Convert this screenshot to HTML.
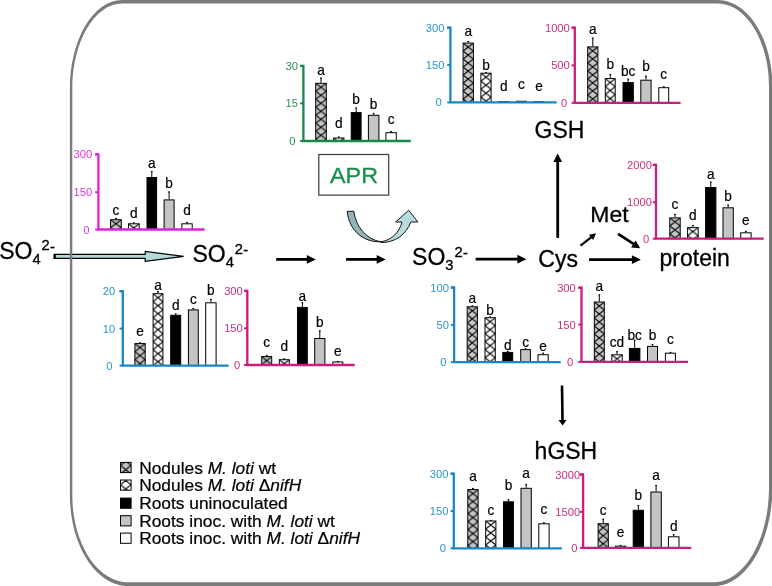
<!DOCTYPE html>
<html><head><meta charset="utf-8"><title>Sulfur metabolism figure</title>
<style>
html,body{margin:0;padding:0;background:#fff;width:772px;height:586px;overflow:hidden}
svg{display:block;will-change:transform}
text{font-family:"Liberation Sans", sans-serif}
</style></head>
<body>
<svg width="772" height="586" viewBox="0 0 772 586" font-family='"Liberation Sans", sans-serif'><defs><pattern id="aprp0" patternUnits="userSpaceOnUse" x="315.7" y="83.3" width="10.6" height="8"><rect width="10.6" height="8" fill="#c4c4c4"/><path d="M0 0L10.6 8M10.6 0L0 8M-5.3 4L5.3 -4M5.3 12L15.9 4M5.3 -4L15.9 4M-5.3 4L5.3 12" stroke="#000" stroke-width="1.1" fill="none"/></pattern><pattern id="aprp1" patternUnits="userSpaceOnUse" x="333.6" y="138" width="10.3" height="8"><rect width="10.3" height="8" fill="#fff"/><path d="M0 0L10.3 8M10.3 0L0 8M-5.15 4L5.15 -4M5.15 12L15.45 4M5.15 -4L15.45 4M-5.15 4L5.15 12" stroke="#000" stroke-width="1.1" fill="none"/></pattern><pattern id="gshbp0" patternUnits="userSpaceOnUse" x="463.1" y="43.1" width="10.3" height="8"><rect width="10.3" height="8" fill="#c4c4c4"/><path d="M0 0L10.3 8M10.3 0L0 8M-5.15 4L5.15 -4M5.15 12L15.45 4M5.15 -4L15.45 4M-5.15 4L5.15 12" stroke="#000" stroke-width="1.1" fill="none"/></pattern><pattern id="gshbp1" patternUnits="userSpaceOnUse" x="480.9" y="73.2" width="10.2" height="8"><rect width="10.2" height="8" fill="#fff"/><path d="M0 0L10.2 8M10.2 0L0 8M-5.1 4L5.1 -4M5.1 12L15.3 4M5.1 -4L15.3 4M-5.1 4L5.1 12" stroke="#000" stroke-width="1.1" fill="none"/></pattern><pattern id="gshpp0" patternUnits="userSpaceOnUse" x="587.7" y="46.9" width="10.2" height="8"><rect width="10.2" height="8" fill="#c4c4c4"/><path d="M0 0L10.2 8M10.2 0L0 8M-5.1 4L5.1 -4M5.1 12L15.3 4M5.1 -4L15.3 4M-5.1 4L5.1 12" stroke="#000" stroke-width="1.1" fill="none"/></pattern><pattern id="gshpp1" patternUnits="userSpaceOnUse" x="605.3" y="78.6" width="9.9" height="8"><rect width="9.9" height="8" fill="#fff"/><path d="M0 0L9.9 8M9.9 0L0 8M-4.95 4L4.95 -4M4.95 12L14.85 4M4.95 -4L14.85 4M-4.95 4L4.95 12" stroke="#000" stroke-width="1.1" fill="none"/></pattern><pattern id="so4mp0" patternUnits="userSpaceOnUse" x="110.6" y="219.7" width="10.7" height="8"><rect width="10.7" height="8" fill="#c4c4c4"/><path d="M0 0L10.7 8M10.7 0L0 8M-5.35 4L5.35 -4M5.35 12L16.05 4M5.35 -4L16.05 4M-5.35 4L5.35 12" stroke="#000" stroke-width="1.1" fill="none"/></pattern><pattern id="so4mp1" patternUnits="userSpaceOnUse" x="128.5" y="223.8" width="10.7" height="8"><rect width="10.7" height="8" fill="#fff"/><path d="M0 0L10.7 8M10.7 0L0 8M-5.35 4L5.35 -4M5.35 12L16.05 4M5.35 -4L16.05 4M-5.35 4L5.35 12" stroke="#000" stroke-width="1.1" fill="none"/></pattern><pattern id="protp0" patternUnits="userSpaceOnUse" x="669.8" y="217.9" width="10.4" height="8"><rect width="10.4" height="8" fill="#c4c4c4"/><path d="M0 0L10.4 8M10.4 0L0 8M-5.2 4L5.2 -4M5.2 12L15.6 4M5.2 -4L15.6 4M-5.2 4L5.2 12" stroke="#000" stroke-width="1.1" fill="none"/></pattern><pattern id="protp1" patternUnits="userSpaceOnUse" x="687.6" y="227.6" width="10.6" height="8"><rect width="10.6" height="8" fill="#fff"/><path d="M0 0L10.6 8M10.6 0L0 8M-5.3 4L5.3 -4M5.3 12L15.9 4M5.3 -4L15.9 4M-5.3 4L5.3 12" stroke="#000" stroke-width="1.1" fill="none"/></pattern><pattern id="so4bp0" patternUnits="userSpaceOnUse" x="134.9" y="343.6" width="10.3" height="8"><rect width="10.3" height="8" fill="#c4c4c4"/><path d="M0 0L10.3 8M10.3 0L0 8M-5.15 4L5.15 -4M5.15 12L15.45 4M5.15 -4L15.45 4M-5.15 4L5.15 12" stroke="#000" stroke-width="1.1" fill="none"/></pattern><pattern id="so4bp1" patternUnits="userSpaceOnUse" x="153.1" y="293.7" width="9.8" height="8"><rect width="9.8" height="8" fill="#fff"/><path d="M0 0L9.8 8M9.8 0L0 8M-4.9 4L4.9 -4M4.9 12L14.7 4M4.9 -4L14.7 4M-4.9 4L4.9 12" stroke="#000" stroke-width="1.1" fill="none"/></pattern><pattern id="so4pp0" patternUnits="userSpaceOnUse" x="261.7" y="356.6" width="10" height="8"><rect width="10" height="8" fill="#c4c4c4"/><path d="M0 0L10 8M10 0L0 8M-5 4L5 -4M5 12L15 4M5 -4L15 4M-5 4L5 12" stroke="#000" stroke-width="1.1" fill="none"/></pattern><pattern id="so4pp1" patternUnits="userSpaceOnUse" x="279.3" y="359.7" width="10" height="8"><rect width="10" height="8" fill="#fff"/><path d="M0 0L10 8M10 0L0 8M-5 4L5 -4M5 12L15 4M5 -4L15 4M-5 4L5 12" stroke="#000" stroke-width="1.1" fill="none"/></pattern><pattern id="so3bp0" patternUnits="userSpaceOnUse" x="467.2" y="306.8" width="10.2" height="8"><rect width="10.2" height="8" fill="#c4c4c4"/><path d="M0 0L10.2 8M10.2 0L0 8M-5.1 4L5.1 -4M5.1 12L15.3 4M5.1 -4L15.3 4M-5.1 4L5.1 12" stroke="#000" stroke-width="1.1" fill="none"/></pattern><pattern id="so3bp1" patternUnits="userSpaceOnUse" x="485" y="317.7" width="10.3" height="8"><rect width="10.3" height="8" fill="#fff"/><path d="M0 0L10.3 8M10.3 0L0 8M-5.15 4L5.15 -4M5.15 12L15.45 4M5.15 -4L15.45 4M-5.15 4L5.15 12" stroke="#000" stroke-width="1.1" fill="none"/></pattern><pattern id="so3pp0" patternUnits="userSpaceOnUse" x="594.3" y="302" width="10" height="8"><rect width="10" height="8" fill="#c4c4c4"/><path d="M0 0L10 8M10 0L0 8M-5 4L5 -4M5 12L15 4M5 -4L15 4M-5 4L5 12" stroke="#000" stroke-width="1.1" fill="none"/></pattern><pattern id="so3pp1" patternUnits="userSpaceOnUse" x="611.8" y="354.8" width="10.4" height="8"><rect width="10.4" height="8" fill="#fff"/><path d="M0 0L10.4 8M10.4 0L0 8M-5.2 4L5.2 -4M5.2 12L15.6 4M5.2 -4L15.6 4M-5.2 4L5.2 12" stroke="#000" stroke-width="1.1" fill="none"/></pattern><pattern id="hgbp0" patternUnits="userSpaceOnUse" x="467.8" y="489.6" width="10.3" height="8"><rect width="10.3" height="8" fill="#c4c4c4"/><path d="M0 0L10.3 8M10.3 0L0 8M-5.15 4L5.15 -4M5.15 12L15.45 4M5.15 -4L15.45 4M-5.15 4L5.15 12" stroke="#000" stroke-width="1.1" fill="none"/></pattern><pattern id="hgbp1" patternUnits="userSpaceOnUse" x="485.7" y="521" width="10.2" height="8"><rect width="10.2" height="8" fill="#fff"/><path d="M0 0L10.2 8M10.2 0L0 8M-5.1 4L5.1 -4M5.1 12L15.3 4M5.1 -4L15.3 4M-5.1 4L5.1 12" stroke="#000" stroke-width="1.1" fill="none"/></pattern><pattern id="hgpp0" patternUnits="userSpaceOnUse" x="598.1" y="523.7" width="10.2" height="8"><rect width="10.2" height="8" fill="#c4c4c4"/><path d="M0 0L10.2 8M10.2 0L0 8M-5.1 4L5.1 -4M5.1 12L15.3 4M5.1 -4L15.3 4M-5.1 4L5.1 12" stroke="#000" stroke-width="1.1" fill="none"/></pattern><pattern id="hgpp1" patternUnits="userSpaceOnUse" x="615.4" y="546.2" width="10.4" height="8"><rect width="10.4" height="8" fill="#fff"/><path d="M0 0L10.4 8M10.4 0L0 8M-5.2 4L5.2 -4M5.2 12L15.6 4M5.2 -4L15.6 4M-5.2 4L5.2 12" stroke="#000" stroke-width="1.1" fill="none"/></pattern><pattern id="lgp0" patternUnits="userSpaceOnUse" x="120.5" y="465.45" width="10.6" height="8.5"><rect width="10.6" height="8.5" fill="#c4c4c4"/><path d="M0 0L10.6 8.5M10.6 0L0 8.5M-5.3 4.25L5.3 -4.25M5.3 12.75L15.9 4.25M5.3 -4.25L15.9 4.25M-5.3 4.25L5.3 12.75" stroke="#000" stroke-width="1.1" fill="none"/></pattern><pattern id="lgp1" patternUnits="userSpaceOnUse" x="120.5" y="476.25" width="10.6" height="8.5"><rect width="10.6" height="8.5" fill="#fff"/><path d="M0 0L10.6 8.5M10.6 0L0 8.5M-5.3 4.25L5.3 -4.25M5.3 12.75L15.9 4.25M5.3 -4.25L15.9 4.25M-5.3 4.25L5.3 12.75" stroke="#000" stroke-width="1.1" fill="none"/></pattern></defs><rect width="772" height="586" fill="#fff"/><g id="apr"><line x1="321" y1="77.7" x2="321" y2="82.8" stroke="#000" stroke-width="1"/><line x1="320.1" y1="78.1" x2="321.9" y2="78.1" stroke="#000" stroke-width="1"/><rect x="315.7" y="83.3" width="10.6" height="57.7" fill="url(#aprp0)" stroke="#000" stroke-width="1"/><text transform="translate(321 75.2) scale(0.9 1)" text-anchor="middle" font-size="15.2" stroke="#000" stroke-width="0.2">a</text><line x1="338.75" y1="136.6" x2="338.75" y2="137.5" stroke="#000" stroke-width="1"/><line x1="337.85" y1="137" x2="339.65" y2="137" stroke="#000" stroke-width="1"/><rect x="333.6" y="138" width="10.3" height="3" fill="url(#aprp1)" stroke="#000" stroke-width="1"/><text transform="translate(338.75 128.4) scale(0.9 1)" text-anchor="middle" font-size="15.2" stroke="#000" stroke-width="0.2">d</text><line x1="356.15" y1="107.6" x2="356.15" y2="112.1" stroke="#000" stroke-width="1"/><line x1="355.25" y1="108" x2="357.05" y2="108" stroke="#000" stroke-width="1"/><rect x="351.2" y="112.6" width="9.9" height="28.4" fill="#000" stroke="#000" stroke-width="1"/><text transform="translate(356.15 104) scale(0.9 1)" text-anchor="middle" font-size="15.2" stroke="#000" stroke-width="0.2">b</text><line x1="373.65" y1="113" x2="373.65" y2="114.8" stroke="#000" stroke-width="1"/><line x1="372.75" y1="113.4" x2="374.55" y2="113.4" stroke="#000" stroke-width="1"/><rect x="368.4" y="115.3" width="10.5" height="25.7" fill="#c4c4c4" stroke="#000" stroke-width="1"/><text transform="translate(373.65 109) scale(0.9 1)" text-anchor="middle" font-size="15.2" stroke="#000" stroke-width="0.2">b</text><line x1="391.1" y1="131.2" x2="391.1" y2="132.2" stroke="#000" stroke-width="1"/><line x1="390.2" y1="131.6" x2="392" y2="131.6" stroke="#000" stroke-width="1"/><rect x="385.9" y="132.7" width="10.4" height="8.3" fill="#fff" stroke="#000" stroke-width="1"/><text transform="translate(391.1 124) scale(0.9 1)" text-anchor="middle" font-size="15.2" stroke="#000" stroke-width="0.2">c</text><path d="M300.2 65.9H303.4V141H410.8" fill="none" stroke="#17894a" stroke-width="2.3" stroke-linejoin="miter"/><line x1="300.2" y1="65.9" x2="303.4" y2="65.9" stroke="#17894a" stroke-width="2"/><text x="298" y="69.9" text-anchor="end" font-size="11.2" fill="#2a9058">30</text><line x1="300.2" y1="103.4" x2="303.4" y2="103.4" stroke="#17894a" stroke-width="2"/><text x="298" y="107.4" text-anchor="end" font-size="11.2" fill="#2a9058">15</text><line x1="300.2" y1="141" x2="303.4" y2="141" stroke="#17894a" stroke-width="2"/><text x="295.4" y="145" text-anchor="end" font-size="11.2" fill="#2a9058">0</text></g>
<g id="gshb"><line x1="468.25" y1="41.2" x2="468.25" y2="42.6" stroke="#000" stroke-width="1"/><line x1="467.35" y1="41.6" x2="469.15" y2="41.6" stroke="#000" stroke-width="1"/><rect x="463.1" y="43.1" width="10.3" height="59.3" fill="url(#gshbp0)" stroke="#000" stroke-width="1"/><text transform="translate(468.25 35.9) scale(0.9 1)" text-anchor="middle" font-size="15.2" stroke="#000" stroke-width="0.2">a</text><line x1="486" y1="72" x2="486" y2="72.7" stroke="#000" stroke-width="1"/><line x1="485.1" y1="72.4" x2="486.9" y2="72.4" stroke="#000" stroke-width="1"/><rect x="480.9" y="73.2" width="10.2" height="29.2" fill="url(#gshbp1)" stroke="#000" stroke-width="1"/><text transform="translate(486 70.3) scale(0.9 1)" text-anchor="middle" font-size="15.2" stroke="#000" stroke-width="0.2">b</text><rect x="498.8" y="101.7" width="9.9" height="0.7" fill="#000" stroke="#000" stroke-width="1"/><text transform="translate(503.75 91) scale(0.9 1)" text-anchor="middle" font-size="15.2" stroke="#000" stroke-width="0.2">d</text><rect x="516.3" y="101.3" width="10.2" height="1.1" fill="#c4c4c4" stroke="#000" stroke-width="1"/><text transform="translate(521.4 89.4) scale(0.9 1)" text-anchor="middle" font-size="15.2" stroke="#000" stroke-width="0.2">c</text><rect x="534" y="101.7" width="10.1" height="0.7" fill="#fff" stroke="#000" stroke-width="1"/><text transform="translate(539.05 91) scale(0.9 1)" text-anchor="middle" font-size="15.2" stroke="#000" stroke-width="0.2">e</text><path d="M447.2 27.7H450.4V102.4H556.7" fill="none" stroke="#1a86c2" stroke-width="2.3" stroke-linejoin="miter"/><line x1="447.2" y1="27.7" x2="450.4" y2="27.7" stroke="#1a86c2" stroke-width="2"/><text x="444.4" y="31.7" text-anchor="end" font-size="11.2" fill="#2a96cc">300</text><line x1="447.2" y1="64.9" x2="450.4" y2="64.9" stroke="#1a86c2" stroke-width="2"/><text x="444.4" y="68.9" text-anchor="end" font-size="11.2" fill="#2a96cc">150</text><line x1="447.2" y1="102.4" x2="450.4" y2="102.4" stroke="#1a86c2" stroke-width="2"/><text x="441.8" y="106.4" text-anchor="end" font-size="11.2" fill="#2a96cc">0</text></g>
<g id="gshp"><line x1="592.8" y1="37.7" x2="592.8" y2="46.4" stroke="#000" stroke-width="1"/><line x1="591.9" y1="38.1" x2="593.7" y2="38.1" stroke="#000" stroke-width="1"/><rect x="587.7" y="46.9" width="10.2" height="55.9" fill="url(#gshpp0)" stroke="#000" stroke-width="1"/><text transform="translate(592.8 33.5) scale(0.9 1)" text-anchor="middle" font-size="15.2" stroke="#000" stroke-width="0.2">a</text><line x1="610.25" y1="74" x2="610.25" y2="78.1" stroke="#000" stroke-width="1"/><line x1="609.35" y1="74.4" x2="611.15" y2="74.4" stroke="#000" stroke-width="1"/><rect x="605.3" y="78.6" width="9.9" height="24.2" fill="url(#gshpp1)" stroke="#000" stroke-width="1"/><text transform="translate(610.25 68.9) scale(0.9 1)" text-anchor="middle" font-size="15.2" stroke="#000" stroke-width="0.2">b</text><line x1="628.15" y1="78.8" x2="628.15" y2="82.1" stroke="#000" stroke-width="1"/><line x1="627.25" y1="79.2" x2="629.05" y2="79.2" stroke="#000" stroke-width="1"/><rect x="623" y="82.6" width="10.3" height="20.2" fill="#000" stroke="#000" stroke-width="1"/><text transform="translate(628.15 75.8) scale(0.9 1)" text-anchor="middle" font-size="15.2" stroke="#000" stroke-width="0.2">bc</text><line x1="645.95" y1="75.8" x2="645.95" y2="79.7" stroke="#000" stroke-width="1"/><line x1="645.05" y1="76.2" x2="646.85" y2="76.2" stroke="#000" stroke-width="1"/><rect x="640.8" y="80.2" width="10.3" height="22.6" fill="#c4c4c4" stroke="#000" stroke-width="1"/><text transform="translate(645.95 71.2) scale(0.9 1)" text-anchor="middle" font-size="15.2" stroke="#000" stroke-width="0.2">b</text><line x1="663.75" y1="86.3" x2="663.75" y2="87.2" stroke="#000" stroke-width="1"/><line x1="662.85" y1="86.7" x2="664.65" y2="86.7" stroke="#000" stroke-width="1"/><rect x="658.8" y="87.7" width="9.9" height="15.1" fill="#fff" stroke="#000" stroke-width="1"/><text transform="translate(663.75 78.5) scale(0.9 1)" text-anchor="middle" font-size="15.2" stroke="#000" stroke-width="0.2">c</text><path d="M571.6 27.7H574.8V102.8H680.6" fill="none" stroke="#cc1c7e" stroke-width="2.3" stroke-linejoin="miter"/><line x1="571.6" y1="27.7" x2="574.8" y2="27.7" stroke="#cc1c7e" stroke-width="2"/><text x="569.8" y="31.7" text-anchor="end" font-size="11.2" fill="#c8307f">1000</text><line x1="571.6" y1="65.4" x2="574.8" y2="65.4" stroke="#cc1c7e" stroke-width="2"/><text x="569.8" y="69.4" text-anchor="end" font-size="11.2" fill="#c8307f">500</text><line x1="571.6" y1="102.8" x2="574.8" y2="102.8" stroke="#cc1c7e" stroke-width="2"/><text x="567.2" y="106.8" text-anchor="end" font-size="11.2" fill="#c8307f">0</text></g>
<g id="so4m"><line x1="115.95" y1="218" x2="115.95" y2="219.2" stroke="#000" stroke-width="1"/><line x1="115.05" y1="218.4" x2="116.85" y2="218.4" stroke="#000" stroke-width="1"/><rect x="110.6" y="219.7" width="10.7" height="9.8" fill="url(#so4mp0)" stroke="#000" stroke-width="1"/><text transform="translate(115.95 215) scale(0.9 1)" text-anchor="middle" font-size="15.2" stroke="#000" stroke-width="0.2">c</text><line x1="133.85" y1="222.5" x2="133.85" y2="223.3" stroke="#000" stroke-width="1"/><line x1="132.95" y1="222.9" x2="134.75" y2="222.9" stroke="#000" stroke-width="1"/><rect x="128.5" y="223.8" width="10.7" height="5.7" fill="url(#so4mp1)" stroke="#000" stroke-width="1"/><text transform="translate(133.85 217.9) scale(0.9 1)" text-anchor="middle" font-size="15.2" stroke="#000" stroke-width="0.2">d</text><line x1="151.8" y1="171.2" x2="151.8" y2="177" stroke="#000" stroke-width="1"/><line x1="150.9" y1="171.6" x2="152.7" y2="171.6" stroke="#000" stroke-width="1"/><rect x="147" y="177.5" width="9.6" height="52" fill="#000" stroke="#000" stroke-width="1"/><text transform="translate(151.8 168.3) scale(0.9 1)" text-anchor="middle" font-size="15.2" stroke="#000" stroke-width="0.2">a</text><line x1="169.1" y1="191.6" x2="169.1" y2="199.4" stroke="#000" stroke-width="1"/><line x1="168.2" y1="192" x2="170" y2="192" stroke="#000" stroke-width="1"/><rect x="164.1" y="199.9" width="10" height="29.6" fill="#c4c4c4" stroke="#000" stroke-width="1"/><text transform="translate(169.1 187.7) scale(0.9 1)" text-anchor="middle" font-size="15.2" stroke="#000" stroke-width="0.2">b</text><line x1="187.05" y1="222" x2="187.05" y2="223.3" stroke="#000" stroke-width="1"/><line x1="186.15" y1="222.4" x2="187.95" y2="222.4" stroke="#000" stroke-width="1"/><rect x="181.9" y="223.8" width="10.3" height="5.7" fill="#fff" stroke="#000" stroke-width="1"/><text transform="translate(187.05 215) scale(0.9 1)" text-anchor="middle" font-size="15.2" stroke="#000" stroke-width="0.2">d</text><path d="M95.2 154.3H98.4V229.5H204.7" fill="none" stroke="#dc22dc" stroke-width="2.3" stroke-linejoin="miter"/><line x1="95.2" y1="154.3" x2="98.4" y2="154.3" stroke="#dc22dc" stroke-width="2"/><text x="92.2" y="158.3" text-anchor="end" font-size="11.2" fill="#dd33dd">300</text><line x1="95.2" y1="192.2" x2="98.4" y2="192.2" stroke="#dc22dc" stroke-width="2"/><text x="92.2" y="196.2" text-anchor="end" font-size="11.2" fill="#dd33dd">150</text><line x1="95.2" y1="229.5" x2="98.4" y2="229.5" stroke="#dc22dc" stroke-width="2"/><text x="89.6" y="233.5" text-anchor="end" font-size="11.2" fill="#dd33dd">0</text></g>
<g id="prot"><line x1="675" y1="214" x2="675" y2="217.4" stroke="#000" stroke-width="1"/><line x1="674.1" y1="214.4" x2="675.9" y2="214.4" stroke="#000" stroke-width="1"/><rect x="669.8" y="217.9" width="10.4" height="20.8" fill="url(#protp0)" stroke="#000" stroke-width="1"/><text transform="translate(675 208.9) scale(0.9 1)" text-anchor="middle" font-size="15.2" stroke="#000" stroke-width="0.2">c</text><line x1="692.9" y1="225" x2="692.9" y2="227.1" stroke="#000" stroke-width="1"/><line x1="692" y1="225.4" x2="693.8" y2="225.4" stroke="#000" stroke-width="1"/><rect x="687.6" y="227.6" width="10.6" height="11.1" fill="url(#protp1)" stroke="#000" stroke-width="1"/><text transform="translate(692.9 219.9) scale(0.9 1)" text-anchor="middle" font-size="15.2" stroke="#000" stroke-width="0.2">d</text><line x1="710.75" y1="181.7" x2="710.75" y2="187" stroke="#000" stroke-width="1"/><line x1="709.85" y1="182.1" x2="711.65" y2="182.1" stroke="#000" stroke-width="1"/><rect x="705.6" y="187.5" width="10.3" height="51.2" fill="#000" stroke="#000" stroke-width="1"/><text transform="translate(710.75 178.6) scale(0.9 1)" text-anchor="middle" font-size="15.2" stroke="#000" stroke-width="0.2">a</text><line x1="728.15" y1="204.7" x2="728.15" y2="207.3" stroke="#000" stroke-width="1"/><line x1="727.25" y1="205.1" x2="729.05" y2="205.1" stroke="#000" stroke-width="1"/><rect x="723" y="207.8" width="10.3" height="30.9" fill="#c4c4c4" stroke="#000" stroke-width="1"/><text transform="translate(728.15 200.5) scale(0.9 1)" text-anchor="middle" font-size="15.2" stroke="#000" stroke-width="0.2">b</text><line x1="745.9" y1="231" x2="745.9" y2="232.3" stroke="#000" stroke-width="1"/><line x1="745" y1="231.4" x2="746.8" y2="231.4" stroke="#000" stroke-width="1"/><rect x="740.7" y="232.8" width="10.4" height="5.9" fill="#fff" stroke="#000" stroke-width="1"/><text transform="translate(745.9 225.4) scale(0.9 1)" text-anchor="middle" font-size="15.2" stroke="#000" stroke-width="0.2">e</text><path d="M652.8 164.8H656V238.7H763.7" fill="none" stroke="#cc1c7e" stroke-width="2.3" stroke-linejoin="miter"/><line x1="652.8" y1="164.8" x2="656" y2="164.8" stroke="#cc1c7e" stroke-width="2"/><text x="651.9" y="168.8" text-anchor="end" font-size="11.2" fill="#c8307f">2000</text><line x1="652.8" y1="202.2" x2="656" y2="202.2" stroke="#cc1c7e" stroke-width="2"/><text x="651.9" y="206.2" text-anchor="end" font-size="11.2" fill="#c8307f">1000</text><line x1="652.8" y1="238.7" x2="656" y2="238.7" stroke="#cc1c7e" stroke-width="2"/><text x="649.3" y="242.7" text-anchor="end" font-size="11.2" fill="#c8307f">0</text></g>
<g id="so4b"><line x1="140.05" y1="342.5" x2="140.05" y2="343.1" stroke="#000" stroke-width="1"/><line x1="139.15" y1="342.9" x2="140.95" y2="342.9" stroke="#000" stroke-width="1"/><rect x="134.9" y="343.6" width="10.3" height="22" fill="url(#so4bp0)" stroke="#000" stroke-width="1"/><text transform="translate(140.05 336.2) scale(0.9 1)" text-anchor="middle" font-size="15.2" stroke="#000" stroke-width="0.2">e</text><line x1="158" y1="291.2" x2="158" y2="293.2" stroke="#000" stroke-width="1"/><line x1="157.1" y1="291.6" x2="158.9" y2="291.6" stroke="#000" stroke-width="1"/><rect x="153.1" y="293.7" width="9.8" height="71.9" fill="url(#so4bp1)" stroke="#000" stroke-width="1"/><text transform="translate(158 290) scale(0.9 1)" text-anchor="middle" font-size="15.2" stroke="#000" stroke-width="0.2">a</text><line x1="175.7" y1="313.5" x2="175.7" y2="314.8" stroke="#000" stroke-width="1"/><line x1="174.8" y1="313.9" x2="176.6" y2="313.9" stroke="#000" stroke-width="1"/><rect x="170.7" y="315.3" width="10" height="50.3" fill="#000" stroke="#000" stroke-width="1"/><text transform="translate(175.7 310) scale(0.9 1)" text-anchor="middle" font-size="15.2" stroke="#000" stroke-width="0.2">d</text><line x1="193.35" y1="308.1" x2="193.35" y2="309.4" stroke="#000" stroke-width="1"/><line x1="192.45" y1="308.5" x2="194.25" y2="308.5" stroke="#000" stroke-width="1"/><rect x="188.4" y="309.9" width="9.9" height="55.7" fill="#c4c4c4" stroke="#000" stroke-width="1"/><text transform="translate(193.35 303.6) scale(0.9 1)" text-anchor="middle" font-size="15.2" stroke="#000" stroke-width="0.2">c</text><line x1="210.9" y1="299" x2="210.9" y2="302.3" stroke="#000" stroke-width="1"/><line x1="210" y1="299.4" x2="211.8" y2="299.4" stroke="#000" stroke-width="1"/><rect x="205.7" y="302.8" width="10.4" height="62.8" fill="#fff" stroke="#000" stroke-width="1"/><text transform="translate(210.9 295.4) scale(0.9 1)" text-anchor="middle" font-size="15.2" stroke="#000" stroke-width="0.2">b</text><path d="M119.6 291.2H122.8V365.6H228.7" fill="none" stroke="#1a86c2" stroke-width="2.3" stroke-linejoin="miter"/><line x1="119.6" y1="291.2" x2="122.8" y2="291.2" stroke="#1a86c2" stroke-width="2"/><text x="115.2" y="295.2" text-anchor="end" font-size="11.2" fill="#2a96cc">20</text><line x1="119.6" y1="328.6" x2="122.8" y2="328.6" stroke="#1a86c2" stroke-width="2"/><text x="115.2" y="332.6" text-anchor="end" font-size="11.2" fill="#2a96cc">10</text><line x1="119.6" y1="365.6" x2="122.8" y2="365.6" stroke="#1a86c2" stroke-width="2"/><text x="112.6" y="369.6" text-anchor="end" font-size="11.2" fill="#2a96cc">0</text></g>
<g id="so4p"><line x1="266.7" y1="355" x2="266.7" y2="356.1" stroke="#000" stroke-width="1"/><line x1="265.8" y1="355.4" x2="267.6" y2="355.4" stroke="#000" stroke-width="1"/><rect x="261.7" y="356.6" width="10" height="8.4" fill="url(#so4pp0)" stroke="#000" stroke-width="1"/><text transform="translate(266.7 347.4) scale(0.9 1)" text-anchor="middle" font-size="15.2" stroke="#000" stroke-width="0.2">c</text><line x1="284.3" y1="358.5" x2="284.3" y2="359.2" stroke="#000" stroke-width="1"/><line x1="283.4" y1="358.9" x2="285.2" y2="358.9" stroke="#000" stroke-width="1"/><rect x="279.3" y="359.7" width="10" height="5.3" fill="url(#so4pp1)" stroke="#000" stroke-width="1"/><text transform="translate(284.3 350.5) scale(0.9 1)" text-anchor="middle" font-size="15.2" stroke="#000" stroke-width="0.2">d</text><line x1="302.4" y1="302.4" x2="302.4" y2="306.9" stroke="#000" stroke-width="1"/><line x1="301.5" y1="302.8" x2="303.3" y2="302.8" stroke="#000" stroke-width="1"/><rect x="297.5" y="307.4" width="9.8" height="57.6" fill="#000" stroke="#000" stroke-width="1"/><text transform="translate(302.4 301.1) scale(0.9 1)" text-anchor="middle" font-size="15.2" stroke="#000" stroke-width="0.2">a</text><line x1="319.8" y1="330.4" x2="319.8" y2="338" stroke="#000" stroke-width="1"/><line x1="318.9" y1="330.8" x2="320.7" y2="330.8" stroke="#000" stroke-width="1"/><rect x="314.7" y="338.5" width="10.2" height="26.5" fill="#c4c4c4" stroke="#000" stroke-width="1"/><text transform="translate(319.8 326.6) scale(0.9 1)" text-anchor="middle" font-size="15.2" stroke="#000" stroke-width="0.2">b</text><line x1="337.8" y1="361" x2="337.8" y2="361.5" stroke="#000" stroke-width="1"/><line x1="336.9" y1="361.4" x2="338.7" y2="361.4" stroke="#000" stroke-width="1"/><rect x="332.8" y="362" width="10" height="3" fill="#fff" stroke="#000" stroke-width="1"/><text transform="translate(337.8 355.6) scale(0.9 1)" text-anchor="middle" font-size="15.2" stroke="#000" stroke-width="0.2">e</text><path d="M244.1 290.8H247.3V365H354.7" fill="none" stroke="#cc1c7e" stroke-width="2.3" stroke-linejoin="miter"/><line x1="244.1" y1="290.8" x2="247.3" y2="290.8" stroke="#cc1c7e" stroke-width="2"/><text x="242.8" y="294.8" text-anchor="end" font-size="11.2" fill="#c8307f">300</text><line x1="244.1" y1="328.3" x2="247.3" y2="328.3" stroke="#cc1c7e" stroke-width="2"/><text x="242.8" y="332.3" text-anchor="end" font-size="11.2" fill="#c8307f">150</text><line x1="244.1" y1="365" x2="247.3" y2="365" stroke="#cc1c7e" stroke-width="2"/><text x="240.2" y="369" text-anchor="end" font-size="11.2" fill="#c8307f">0</text></g>
<g id="so3b"><line x1="472.3" y1="305.5" x2="472.3" y2="306.3" stroke="#000" stroke-width="1"/><line x1="471.4" y1="305.9" x2="473.2" y2="305.9" stroke="#000" stroke-width="1"/><rect x="467.2" y="306.8" width="10.2" height="55.3" fill="url(#so3bp0)" stroke="#000" stroke-width="1"/><text transform="translate(472.3 302.5) scale(0.9 1)" text-anchor="middle" font-size="15.2" stroke="#000" stroke-width="0.2">a</text><line x1="490.15" y1="316.5" x2="490.15" y2="317.2" stroke="#000" stroke-width="1"/><line x1="489.25" y1="316.9" x2="491.05" y2="316.9" stroke="#000" stroke-width="1"/><rect x="485" y="317.7" width="10.3" height="44.4" fill="url(#so3bp1)" stroke="#000" stroke-width="1"/><text transform="translate(490.15 314.7) scale(0.9 1)" text-anchor="middle" font-size="15.2" stroke="#000" stroke-width="0.2">b</text><line x1="507.75" y1="351" x2="507.75" y2="351.9" stroke="#000" stroke-width="1"/><line x1="506.85" y1="351.4" x2="508.65" y2="351.4" stroke="#000" stroke-width="1"/><rect x="502.8" y="352.4" width="9.9" height="9.7" fill="#000" stroke="#000" stroke-width="1"/><text transform="translate(507.75 349.9) scale(0.9 1)" text-anchor="middle" font-size="15.2" stroke="#000" stroke-width="0.2">d</text><line x1="525.55" y1="348.5" x2="525.55" y2="349.1" stroke="#000" stroke-width="1"/><line x1="524.65" y1="348.9" x2="526.45" y2="348.9" stroke="#000" stroke-width="1"/><rect x="520.7" y="349.6" width="9.7" height="12.5" fill="#c4c4c4" stroke="#000" stroke-width="1"/><text transform="translate(525.55 346.7) scale(0.9 1)" text-anchor="middle" font-size="15.2" stroke="#000" stroke-width="0.2">c</text><line x1="543.1" y1="352.8" x2="543.1" y2="354.2" stroke="#000" stroke-width="1"/><line x1="542.2" y1="353.2" x2="544" y2="353.2" stroke="#000" stroke-width="1"/><rect x="538" y="354.7" width="10.2" height="7.4" fill="#fff" stroke="#000" stroke-width="1"/><text transform="translate(543.1 351.4) scale(0.9 1)" text-anchor="middle" font-size="15.2" stroke="#000" stroke-width="0.2">e</text><path d="M450.9 287.5H454.1V362.1H560.7" fill="none" stroke="#1a86c2" stroke-width="2.3" stroke-linejoin="miter"/><line x1="450.9" y1="287.5" x2="454.1" y2="287.5" stroke="#1a86c2" stroke-width="2"/><text x="449" y="291.5" text-anchor="end" font-size="11.2" fill="#2a96cc">100</text><line x1="450.9" y1="325.1" x2="454.1" y2="325.1" stroke="#1a86c2" stroke-width="2"/><text x="449" y="329.1" text-anchor="end" font-size="11.2" fill="#2a96cc">50</text><line x1="450.9" y1="362.1" x2="454.1" y2="362.1" stroke="#1a86c2" stroke-width="2"/><text x="446.4" y="366.1" text-anchor="end" font-size="11.2" fill="#2a96cc">0</text></g>
<g id="so3p"><line x1="599.3" y1="294.5" x2="599.3" y2="301.5" stroke="#000" stroke-width="1"/><line x1="598.4" y1="294.9" x2="600.2" y2="294.9" stroke="#000" stroke-width="1"/><rect x="594.3" y="302" width="10" height="59.9" fill="url(#so3pp0)" stroke="#000" stroke-width="1"/><text transform="translate(599.3 291) scale(0.9 1)" text-anchor="middle" font-size="15.2" stroke="#000" stroke-width="0.2">a</text><line x1="617" y1="351.3" x2="617" y2="354.3" stroke="#000" stroke-width="1"/><line x1="616.1" y1="351.7" x2="617.9" y2="351.7" stroke="#000" stroke-width="1"/><rect x="611.8" y="354.8" width="10.4" height="7.1" fill="url(#so3pp1)" stroke="#000" stroke-width="1"/><text transform="translate(617 346.9) scale(0.9 1)" text-anchor="middle" font-size="15.2" stroke="#000" stroke-width="0.2">cd</text><line x1="634.65" y1="339.8" x2="634.65" y2="347.9" stroke="#000" stroke-width="1"/><line x1="633.75" y1="340.2" x2="635.55" y2="340.2" stroke="#000" stroke-width="1"/><rect x="629.4" y="348.4" width="10.5" height="13.5" fill="#000" stroke="#000" stroke-width="1"/><text transform="translate(634.65 340.2) scale(0.9 1)" text-anchor="middle" font-size="15.2" stroke="#000" stroke-width="0.2">bc</text><line x1="652.5" y1="344.2" x2="652.5" y2="345.9" stroke="#000" stroke-width="1"/><line x1="651.6" y1="344.6" x2="653.4" y2="344.6" stroke="#000" stroke-width="1"/><rect x="647.5" y="346.4" width="10" height="15.5" fill="#c4c4c4" stroke="#000" stroke-width="1"/><text transform="translate(652.5 339.8) scale(0.9 1)" text-anchor="middle" font-size="15.2" stroke="#000" stroke-width="0.2">b</text><line x1="670.4" y1="352" x2="670.4" y2="352.7" stroke="#000" stroke-width="1"/><line x1="669.5" y1="352.4" x2="671.3" y2="352.4" stroke="#000" stroke-width="1"/><rect x="665.4" y="353.2" width="10" height="8.7" fill="#fff" stroke="#000" stroke-width="1"/><text transform="translate(670.4 344.2) scale(0.9 1)" text-anchor="middle" font-size="15.2" stroke="#000" stroke-width="0.2">c</text><path d="M578.3 287.6H581.5V361.9H688" fill="none" stroke="#cc1c7e" stroke-width="2.3" stroke-linejoin="miter"/><line x1="578.3" y1="287.6" x2="581.5" y2="287.6" stroke="#cc1c7e" stroke-width="2"/><text x="575.8" y="291.6" text-anchor="end" font-size="11.2" fill="#c8307f">300</text><line x1="578.3" y1="324.6" x2="581.5" y2="324.6" stroke="#cc1c7e" stroke-width="2"/><text x="575.8" y="328.6" text-anchor="end" font-size="11.2" fill="#c8307f">150</text><line x1="578.3" y1="361.9" x2="581.5" y2="361.9" stroke="#cc1c7e" stroke-width="2"/><text x="573.2" y="365.9" text-anchor="end" font-size="11.2" fill="#c8307f">0</text></g>
<g id="hgb"><line x1="472.95" y1="488" x2="472.95" y2="489.1" stroke="#000" stroke-width="1"/><line x1="472.05" y1="488.4" x2="473.85" y2="488.4" stroke="#000" stroke-width="1"/><rect x="467.8" y="489.6" width="10.3" height="58.7" fill="url(#hgbp0)" stroke="#000" stroke-width="1"/><text transform="translate(472.95 480.7) scale(0.9 1)" text-anchor="middle" font-size="15.2" stroke="#000" stroke-width="0.2">a</text><line x1="490.8" y1="520" x2="490.8" y2="520.5" stroke="#000" stroke-width="1"/><line x1="489.9" y1="520.4" x2="491.7" y2="520.4" stroke="#000" stroke-width="1"/><rect x="485.7" y="521" width="10.2" height="27.3" fill="url(#hgbp1)" stroke="#000" stroke-width="1"/><text transform="translate(490.8 515.4) scale(0.9 1)" text-anchor="middle" font-size="15.2" stroke="#000" stroke-width="0.2">c</text><line x1="508.45" y1="499.4" x2="508.45" y2="501.3" stroke="#000" stroke-width="1"/><line x1="507.55" y1="499.8" x2="509.35" y2="499.8" stroke="#000" stroke-width="1"/><rect x="503.5" y="501.8" width="9.9" height="46.5" fill="#000" stroke="#000" stroke-width="1"/><text transform="translate(508.45 490) scale(0.9 1)" text-anchor="middle" font-size="15.2" stroke="#000" stroke-width="0.2">b</text><line x1="526.15" y1="484" x2="526.15" y2="487.8" stroke="#000" stroke-width="1"/><line x1="525.25" y1="484.4" x2="527.05" y2="484.4" stroke="#000" stroke-width="1"/><rect x="521" y="488.3" width="10.3" height="60" fill="#c4c4c4" stroke="#000" stroke-width="1"/><text transform="translate(526.15 477.8) scale(0.9 1)" text-anchor="middle" font-size="15.2" stroke="#000" stroke-width="0.2">a</text><line x1="543.95" y1="522.5" x2="543.95" y2="523.3" stroke="#000" stroke-width="1"/><line x1="543.05" y1="522.9" x2="544.85" y2="522.9" stroke="#000" stroke-width="1"/><rect x="538.8" y="523.8" width="10.3" height="24.5" fill="#fff" stroke="#000" stroke-width="1"/><text transform="translate(543.95 513.5) scale(0.9 1)" text-anchor="middle" font-size="15.2" stroke="#000" stroke-width="0.2">c</text><path d="M450.6 473.7H453.8V548.3H561.8" fill="none" stroke="#1a86c2" stroke-width="2.3" stroke-linejoin="miter"/><line x1="450.6" y1="473.7" x2="453.8" y2="473.7" stroke="#1a86c2" stroke-width="2"/><text x="448.5" y="477.7" text-anchor="end" font-size="11.2" fill="#2a96cc">300</text><line x1="450.6" y1="511.1" x2="453.8" y2="511.1" stroke="#1a86c2" stroke-width="2"/><text x="448.5" y="515.1" text-anchor="end" font-size="11.2" fill="#2a96cc">150</text><line x1="450.6" y1="548.3" x2="453.8" y2="548.3" stroke="#1a86c2" stroke-width="2"/><text x="445.9" y="552.3" text-anchor="end" font-size="11.2" fill="#2a96cc">0</text></g>
<g id="hgp"><line x1="603.2" y1="518.8" x2="603.2" y2="523.2" stroke="#000" stroke-width="1"/><line x1="602.3" y1="519.2" x2="604.1" y2="519.2" stroke="#000" stroke-width="1"/><rect x="598.1" y="523.7" width="10.2" height="24.2" fill="url(#hgpp0)" stroke="#000" stroke-width="1"/><text transform="translate(603.2 515.2) scale(0.9 1)" text-anchor="middle" font-size="15.2" stroke="#000" stroke-width="0.2">c</text><line x1="620.6" y1="545" x2="620.6" y2="545.7" stroke="#000" stroke-width="1"/><line x1="619.7" y1="545.4" x2="621.5" y2="545.4" stroke="#000" stroke-width="1"/><rect x="615.4" y="546.2" width="10.4" height="1.7" fill="url(#hgpp1)" stroke="#000" stroke-width="1"/><text transform="translate(620.6 537.3) scale(0.9 1)" text-anchor="middle" font-size="15.2" stroke="#000" stroke-width="0.2">e</text><line x1="638.35" y1="505.2" x2="638.35" y2="509.8" stroke="#000" stroke-width="1"/><line x1="637.45" y1="505.6" x2="639.25" y2="505.6" stroke="#000" stroke-width="1"/><rect x="633.2" y="510.3" width="10.3" height="37.6" fill="#000" stroke="#000" stroke-width="1"/><text transform="translate(638.35 499.8) scale(0.9 1)" text-anchor="middle" font-size="15.2" stroke="#000" stroke-width="0.2">b</text><line x1="656.1" y1="485.1" x2="656.1" y2="491.5" stroke="#000" stroke-width="1"/><line x1="655.2" y1="485.5" x2="657" y2="485.5" stroke="#000" stroke-width="1"/><rect x="650.9" y="492" width="10.4" height="55.9" fill="#c4c4c4" stroke="#000" stroke-width="1"/><text transform="translate(656.1 480) scale(0.9 1)" text-anchor="middle" font-size="15.2" stroke="#000" stroke-width="0.2">a</text><line x1="673.7" y1="534.3" x2="673.7" y2="536.3" stroke="#000" stroke-width="1"/><line x1="672.8" y1="534.7" x2="674.6" y2="534.7" stroke="#000" stroke-width="1"/><rect x="668.4" y="536.8" width="10.6" height="11.1" fill="#fff" stroke="#000" stroke-width="1"/><text transform="translate(673.7 530.7) scale(0.9 1)" text-anchor="middle" font-size="15.2" stroke="#000" stroke-width="0.2">d</text><path d="M579.9 474.5H583.1V547.9H691.2" fill="none" stroke="#cc1c7e" stroke-width="2.3" stroke-linejoin="miter"/><line x1="579.9" y1="474.5" x2="583.1" y2="474.5" stroke="#cc1c7e" stroke-width="2"/><text x="580.2" y="478.5" text-anchor="end" font-size="11.2" fill="#c8307f">3000</text><line x1="579.9" y1="511.8" x2="583.1" y2="511.8" stroke="#cc1c7e" stroke-width="2"/><text x="580.2" y="515.8" text-anchor="end" font-size="11.2" fill="#c8307f">1500</text><line x1="579.9" y1="547.9" x2="583.1" y2="547.9" stroke="#cc1c7e" stroke-width="2"/><text x="577.6" y="551.9" text-anchor="end" font-size="11.2" fill="#c8307f">0</text></g>
<line x1="276.2" y1="259.4" x2="307.3" y2="259.4" stroke="#000" stroke-width="2.8"/><path d="M315.8 259.4L306.8 263.8L306.8 255Z" fill="#000"/>
<line x1="346.1" y1="259.4" x2="377.2" y2="259.4" stroke="#000" stroke-width="2.8"/><path d="M385.7 259.4L376.7 263.8L376.7 255Z" fill="#000"/>
<line x1="475.6" y1="259.2" x2="517.9" y2="259.2" stroke="#000" stroke-width="2.8"/><path d="M526.4 259.2L517.4 263.6L517.4 254.8Z" fill="#000"/>
<line x1="589.1" y1="259.7" x2="632.4" y2="259.7" stroke="#000" stroke-width="2.8"/><path d="M640.9 259.7L631.9 264.1L631.9 255.3Z" fill="#000"/>
<line x1="557.7" y1="237.9" x2="557.7" y2="161.5" stroke="#000" stroke-width="2.8"/><path d="M557.7 153.5L562.1 162L553.3 162Z" fill="#000"/>
<line x1="580.5" y1="245.7" x2="591.4" y2="237.03" stroke="#000" stroke-width="2.2"/><path d="M596.1 233.3L593.13 240.01L588.9 234.68Z" fill="#000"/>
<line x1="618.1" y1="233.8" x2="633.84" y2="244.17" stroke="#000" stroke-width="2.8"/><path d="M640.1 248.3L631.11 247.4L635.73 240.39Z" fill="#000"/>
<line x1="562" y1="385.4" x2="562.53" y2="420.5" stroke="#000" stroke-width="2.6"/><path d="M562.6 425.5L558.52 420.06L566.52 419.94Z" fill="#000"/>
<path d="M54.3 254.4H145.2V251.4L183.6 256.4L145.2 261.4V258.4H54.3Z" fill="#b4dadb" stroke="#000" stroke-width="1.2" stroke-linejoin="miter"/>
<rect x="53.6" y="254.2" width="2.2" height="4.4" fill="#000"/>
<path d="M347.2 211.3L353.9 211.3C355.5 226 366 239.5 381 241.8C364 242.5 349 231 347.2 211.3Z" fill="#93b3b9" stroke="#000" stroke-width="0.9"/>
<path d="M381 241.8C392 240 399.5 232 402 222L395.6 222L408.7 210.3L418 222L410.8 222C406 235 395 242.5 381 242.6Z" fill="#b7dcdf" stroke="#000" stroke-width="0.9" stroke-linejoin="miter"/>
<rect x="318.8" y="154.5" width="69.9" height="40.6" fill="none" stroke="#3a3a3a" stroke-width="1.2"/>
<text transform="translate(354 182.8) scale(1.08 1)" font-size="21.6" text-anchor="middle" fill="#1b8f4d" stroke="#1b8f4d" stroke-width="0.3">APR</text>
<text transform="translate(-0.8 258.5) scale(1.0 1)" font-size="23.0" stroke="#000" stroke-width="0.3">SO<tspan font-size="14.72" dy="5.06">4</tspan><tspan font-size="14.72" dy="-13.34" dx="0.9">2</tspan><tspan font-size="14.72" dy="1.3" dx="0.3">-</tspan></text>
<text transform="translate(192.4 262.2) scale(1.0 1)" font-size="23.0" stroke="#000" stroke-width="0.3">SO<tspan font-size="14.72" dy="5.06">4</tspan><tspan font-size="14.72" dy="-13.34" dx="0.9">2</tspan><tspan font-size="14.72" dy="1.3" dx="0.3">-</tspan></text>
<text transform="translate(412.1 265.3) scale(1.0 1)" font-size="23.0" stroke="#000" stroke-width="0.3">SO<tspan font-size="14.72" dy="5.06">3</tspan><tspan font-size="14.72" dy="-13.34" dx="0.9">2</tspan><tspan font-size="14.72" dy="1.3" dx="0.3">-</tspan></text>
<text transform="translate(538.3 267) scale(1.0 1)" font-size="23.0" stroke="#000" stroke-width="0.3">Cys</text>
<text transform="translate(590.3 221.8) scale(1.045 1)" font-size="22.0" stroke="#000" stroke-width="0.3">Met</text>
<text transform="translate(659.5 265.6) scale(1.0 1)" font-size="23.0" stroke="#000" stroke-width="0.3">protein</text>
<text transform="translate(534.6 137.6) scale(1.0 1)" font-size="23.0" stroke="#000" stroke-width="0.3">GSH</text>
<text transform="translate(534.6 458.6) scale(1.0 1)" font-size="23.0" stroke="#000" stroke-width="0.3">hGSH</text>
<rect x="120.5" y="462.4" width="10.6" height="10.2" fill="url(#lgp0)" stroke="#000" stroke-width="1"/>
<text transform="translate(139.2 473.5) scale(1.058 1)" font-size="16.4" stroke="#000" stroke-width="0.2">Nodules <tspan font-style="italic">M. loti</tspan> wt</text>
<rect x="120.5" y="480" width="10.6" height="10.2" fill="url(#lgp1)" stroke="#000" stroke-width="1"/>
<text transform="translate(139.2 491.2) scale(1.058 1)" font-size="16.4" stroke="#000" stroke-width="0.2">Nodules <tspan font-style="italic">M. loti</tspan> Δ<tspan font-style="italic">nifH</tspan></text>
<rect x="120.5" y="498.1" width="10.6" height="10.2" fill="#000" stroke="#000" stroke-width="1"/>
<text transform="translate(139.2 508.9) scale(1.058 1)" font-size="16.4" stroke="#000" stroke-width="0.2">Roots uninoculated</text>
<rect x="120.5" y="515.7" width="10.6" height="10.2" fill="#c4c4c4" stroke="#000" stroke-width="1"/>
<text transform="translate(139.2 526.6) scale(1.058 1)" font-size="16.4" stroke="#000" stroke-width="0.2">Roots inoc. with <tspan font-style="italic">M. loti</tspan> wt</text>
<rect x="120.5" y="533.1" width="10.6" height="10.2" fill="#fff" stroke="#000" stroke-width="1"/>
<text transform="translate(139.2 544.3) scale(1.058 1)" font-size="16.4" stroke="#000" stroke-width="0.2">Roots inoc. with <tspan font-style="italic">M. loti</tspan> Δ<tspan font-style="italic">nifH</tspan></text>
<path d="M122.1 0H717.7C747.91 0 772.4 38.86 772.4 86.8V487.2C772.4 541.82 746.12 586.1 713.7 586.1H128.1C95.96 586.1 69.9 545.4 69.9 495.2V88.8C69.9 39.76 93.27 0 122.1 0ZM122.1 3.6H717.7C746.03 3.6 769 40.85 769 86.8V487.2C769 539.72 744.24 582.3 713.7 582.3H128.1C97.28 582.3 72.3 543.31 72.3 495.2V88.8C72.3 41.74 94.6 3.6 122.1 3.6Z" fill="#7b7b7b" fill-rule="evenodd"/></svg>
</body></html>
